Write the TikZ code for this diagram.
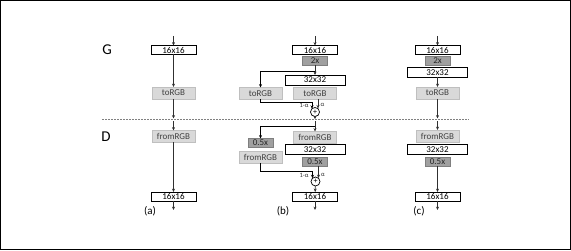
\documentclass[tikz,border=0pt]{standalone}
\usepackage{fontspec}
\setmainfont{Carlito}
\usetikzlibrary{arrows.meta}
\definecolor{lightbox}{HTML}{D9D9D9}
\definecolor{lightedge}{HTML}{BFBFBF}
\definecolor{darkbox}{HTML}{A0A0A0}
\definecolor{darkedge}{HTML}{7F7F7F}
\definecolor{linegray}{HTML}{303030}
\definecolor{lbltext}{HTML}{404040}
\begin{document}
\begin{tikzpicture}[x=1pt,y=-1pt,
  every node/.style={inner sep=0pt,outer sep=0pt,font=\fontsize{9}{10}\selectfont},
  resbox/.style={draw=black,line width=0.9pt,fill=white,minimum width=45pt,minimum height=9pt},
  widebox/.style={resbox,minimum width=60pt,minimum height=10pt},
  rgbbox/.style={draw=lightedge,line width=0.6pt,fill=lightbox,text=lbltext,minimum width=43pt,minimum height=12pt},
  scalebox/.style={draw=darkedge,line width=0.6pt,fill=darkbox,text=black!85,minimum width=25pt,minimum height=9pt},
  plusnode/.style={draw=black,line width=0.7pt,circle,minimum size=9pt,fill=white},
  conn/.style={draw=linegray,line width=0.7pt},
  arr/.style={conn,-{Stealth[length=3.4pt,width=3pt]}},
  wlabel/.style={font=\fontsize{6.5}{7}\selectfont,text=black!80},
  biglabel/.style={font=\fontsize{15}{16}\selectfont},
  sublabel/.style={font=\fontsize{11}{12}\selectfont}
]
\useasboundingbox (0,0) rectangle (571,251);
\draw[line width=1.2pt] (0.6,0.6) rectangle (570.2,249.4);

% labels
\node[biglabel] (G) at (107,50) {G};
\node[biglabel] (D) at (106,137) {D};

% dashed separator
\coordinate (dl) at (102,119.5);
\coordinate (dr) at (469,119.5);
\draw[draw=gray,line width=0.6pt,dash pattern=on 1.6pt off 1.4pt] (dl) -- (dr);

% ---------- column (a) ----------
\coordinate (ain) at (173.5,36);
\node[resbox] (a16) at (173.5,50) {16x16};
\node[rgbbox] (ato) at (173.5,93) {toRGB};
\coordinate (adash) at (173.5,118.5);
\coordinate (adash2) at (173.5,121.5);
\node[rgbbox] (afrom) at (173.5,136.5) {fromRGB};
\node[resbox] (a16b) at (173.5,196.5) {16x16};
\coordinate (aout) at (173.5,210);
\node[sublabel] (la) at (150,211) {(a)};
\draw[arr] (ain) -- (a16);
\draw[arr] (a16) -- (ato);
\draw[arr] (ato) -- (adash);
\draw[arr] (adash2) -- (afrom);
\draw[arr] (afrom) -- (a16b);
\draw[arr] (a16b) -- (aout);

% ---------- column (b) ----------
\coordinate (bin) at (315,36);
\node[resbox] (b16) at (315,50) {16x16};
\node[scalebox] (b2x) at (315,61) {2x};
\coordinate (bj1) at (315,71);
\coordinate (bj1l) at (260.5,71);
\node[widebox] (b32) at (315,80) {32x32};
\node[rgbbox] (btoL) at (260.5,93.5) {toRGB};
\node[rgbbox] (btoR) at (315,93.5) {toRGB};
\node[plusnode] (bplus) at (315,112) {};
\node[font=\fontsize{8}{8}\selectfont] at (bplus) {+};
\coordinate (bl1) at (260.5,102.5);
\coordinate (bl2) at (312,102.5);
\coordinate (bp1) at (312,108.7);
\coordinate (br1) at (318,99.5);
\coordinate (bp2) at (318,108.4);
\node[wlabel] at (304,105) {1-α};
\node[wlabel] at (322.5,104.5) {α};
\coordinate (bdash) at (315,119.2);
\coordinate (bdash2) at (315,121.5);
\coordinate (bj2) at (315,126);
\coordinate (bj2l) at (260.5,126);
\node[rgbbox] (bfromR) at (315,137.5) {fromRGB};
\node[widebox] (b32d) at (315,149.3) {32x32};
\node[scalebox] (b05R) at (315,161.5) {0.5x};
\node[scalebox] (b05L) at (260.5,143) {0.5x};
\node[rgbbox] (bfromL) at (260.5,157) {fromRGB};
\node[plusnode] (bplus2) at (315.5,181.5) {};
\node[font=\fontsize{8}{8}\selectfont] at (bplus2) {+};
\coordinate (bm1) at (260.5,171.5);
\coordinate (bm2) at (312.5,171.5);
\coordinate (bq1) at (312.5,178.2);
\coordinate (bq2) at (318.5,178);
\node[wlabel] at (304,175) {1-α};
\node[wlabel] at (323,174.5) {α};
\node[resbox] (b16b) at (315,196.5) {16x16};
\coordinate (bout) at (315,210);
\node[sublabel] (lb) at (283,211) {(b)};

\draw[arr] (bin) -- (b16);
\draw[conn] (b2x) -- (bj1);
\draw[arr] (bj1) -- (b32);
\draw[conn,line width=0.8pt,draw=black] (bj1) -- (bj1l);
\draw[arr,draw=black,line width=0.8pt] (bj1l) -- (btoL);
\draw[conn,draw=black,line width=0.8pt] (btoL.south) -- (bl1) -- (bl2);
\draw[arr,draw=black,line width=0.8pt] (bl2) -- (bp1);
\draw[arr] (br1) -- (bp2);
\draw[arr] (bplus) -- (bdash);
\draw[conn] (bdash2) -- (bj2);
\draw[arr] (bj2) -- (bfromR);
\draw[conn,draw=black,line width=0.8pt] (bj2) -- (bj2l);
\draw[arr,draw=black,line width=0.8pt] (bj2l) -- (b05L);
\draw[conn,draw=black,line width=0.8pt] (bfromL.south) -- (bm1) -- (bm2);
\draw[arr,draw=black,line width=0.8pt] (bm2) -- (bq1);
\draw[arr] (b05R.south -| bq2) -- (bq2);
\draw[arr] (bplus2) -- (b16b);
\draw[arr] (b16b) -- (bout);

% ---------- column (c) ----------
\coordinate (cin) at (437.5,36);
\node[resbox] (c16) at (437.5,50) {16x16};
\node[scalebox] (c2x) at (437.5,61) {2x};
\node[widebox] (c32) at (437.5,72.5) {32x32};
\node[rgbbox] (cto) at (437.5,93) {toRGB};
\coordinate (cdash) at (437.5,118.5);
\coordinate (cdash2) at (437.5,121.5);
\node[rgbbox] (cfrom) at (437.5,136) {fromRGB};
\node[widebox] (c32d) at (437.5,149.5) {32x32};
\node[scalebox] (c05) at (437.5,161.5) {0.5x};
\node[resbox] (c16b) at (437.5,196.5) {16x16};
\coordinate (cout) at (437.5,210);
\node[sublabel] (lc) at (419,211) {(c)};
\draw[arr] (cin) -- (c16);
\draw[arr] (c32) -- (cto);
\draw[arr] (cto) -- (cdash);
\draw[arr] (cdash2) -- (cfrom);
\draw[arr] (c05) -- (c16b);
\draw[arr] (c16b) -- (cout);
\end{tikzpicture}
\end{document}
